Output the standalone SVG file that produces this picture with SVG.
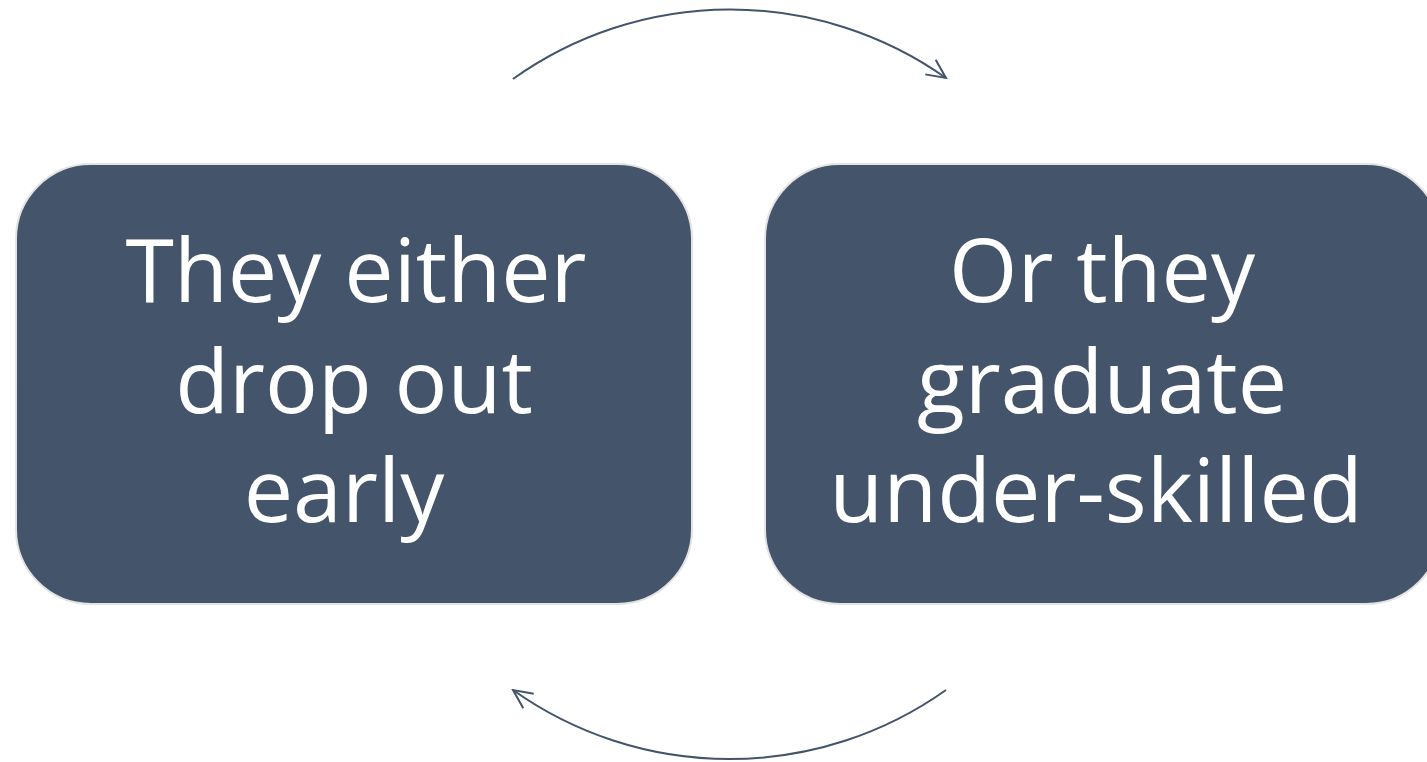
<svg xmlns="http://www.w3.org/2000/svg" width="1427" height="762" viewBox="0 0 1427 762">
<defs>
<style>
.box{fill:#44546A;stroke:#E3E3E3;stroke-width:2}
.lbl{font-family:"Open Sans","Liberation Sans",sans-serif;font-size:88px;fill:#FFFFFF;text-anchor:middle}
.arc{fill:none;stroke:#44546A;stroke-width:2}
</style>
<marker id="arr" viewBox="0 0 24 24" refX="22" refY="12" markerWidth="24" markerHeight="24" markerUnits="userSpaceOnUse" orient="auto">
<path d="M3,3 L22,12 L3,21" fill="none" stroke="#44546A" stroke-width="2"/>
</marker>
</defs>
<rect width="1427" height="762" fill="#FFFFFF"/>
<g id="connectors">
<path class="arc" d="M513,79 A374,374 0 0 1 946,78" marker-end="url(#arr)"/>
<path class="arc" d="M946,690 A374,374 0 0 1 513,690" marker-end="url(#arr)"/>
</g>
<g id="node-left">
<rect class="box" x="16" y="164" width="676" height="440" rx="75"/>
<text class="lbl" x="356" y="302">They either</text>
<text class="lbl" x="354" y="413">drop out</text>
<text class="lbl" x="344" y="522">early</text>
</g>
<g id="node-right">
<rect class="box" x="765" y="164" width="676" height="440" rx="75"/>
<text class="lbl" x="1102" y="302">Or they</text>
<text class="lbl" x="1102" y="413">graduate</text>
<text class="lbl" x="1096" y="522">under-skilled</text>
</g>
</svg>
